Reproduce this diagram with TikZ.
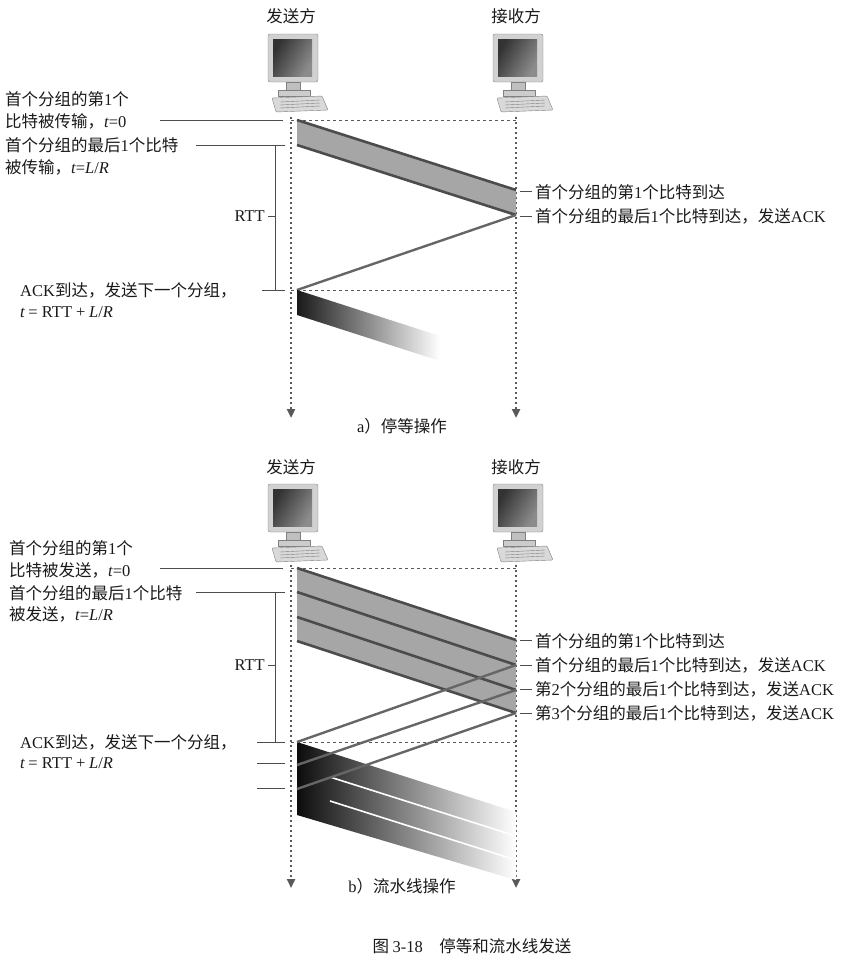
\documentclass[tikz,border=0pt]{standalone}
\usepackage{fontspec}
\setmainfont{Noto Sans CJK SC}
\newfontfamily\lat{Liberation Serif}
\usetikzlibrary{arrows.meta}
\newcommand{\vi}[1]{{\lat\itshape #1}}
\newcommand{\la}[1]{{\lat #1}}
\begin{document}
\begin{tikzpicture}[x=1pt,y=-1pt,
  txt/.style={font=\fontsize{16.5}{18}\selectfont, inner sep=0pt, text=black!90},
  tl/.style={txt,anchor=west},
  life/.style={draw=black!65, line width=2.4pt, dash pattern=on 1.5pt off 3.5pt, -{Triangle[width=8pt,length=9pt]}},
  dsh/.style={draw=black!65, dashed, line width=0.8pt},
  lead/.style={draw=black!70, line width=0.8pt},
  pk/.style={draw=black!70, line width=2.6pt},
  band/.style={fill=black!35},
  ackl/.style={draw=black!60, line width=2.4pt}]
\useasboundingbox (0,0) rectangle (862,972);

\newcommand{\computer}[2]{%
  \begin{scope}[shift={(#1,#2)}]
   \fill[black!18,draw=black!50,rounded corners=2pt] (-24,-38) rectangle (26,10);
   \shade[left color=black!80,right color=black!45,shading angle=60] (-19,-33) rectangle (20,4);
   \fill[black!25,draw=black!50] (-6,10) rectangle (8,18);
   \fill[black!20,draw=black!50] (-14,18) rectangle (18,24);
   \fill[black!15,draw=black!50,rounded corners=1pt] (-20,26) -- (30,24) -- (36,38) -- (-16,40) -- cycle;
   \foreach \k in {29,32,35} \draw[black!50] (-12,\k+1) -- (28,\k-1);
  \end{scope}}

% ===== part a =====
\node[txt] (sa) at (291,16) {发送方};
\node[txt] (ra) at (516,16) {接收方};
\computer{292}{72}
\computer{517}{72}
\coordinate (sa0) at (291,117); \coordinate (sa1) at (291,418);
\coordinate (ra0) at (516,117); \coordinate (ra1) at (516,418);
\draw[life] (sa0) -- (sa1);
\draw[life] (ra0) -- (ra1);
\coordinate (a1) at (297,120); \coordinate (a2) at (297,145);
\coordinate (a3) at (516,190); \coordinate (a4) at (516,215);
\coordinate (a5) at (297,290); \coordinate (a6) at (297,315);
\draw[dsh] (291,120) -- (516,120);
\draw[dsh] (291,290) -- (516,290);
\fill[band] (a1) -- (a3) -- (a4) -- (a2) -- cycle;
\draw[pk] (a1) -- (a3);
\draw[pk] (a2) -- (a4);
\draw[ackl] (a4) -- (a5);
\shade[left color=black!90, right color=white] (a5) -- (440,336) -- (440,361) -- (a6) -- cycle;

\node[tl] (l1) at (5,99) {首个分组的第\la{1}个};
\node[tl] (l2) at (5,121) {比特被传输，\vi{t}\la{=0}};
\draw[lead] (160,120) -- (283,120);
\node[tl] (l3) at (5,145) {首个分组的最后\la{1}个比特};
\node[tl] (l4) at (5,167) {被传输，\vi{t}\la{=}\vi{L}\la{/}\vi{R}};
\draw[lead] (196,145) -- (285,145);
\draw[lead] (285,145) -- (275,145) -- (275,290) -- (285,290);
\node[txt,anchor=east] (rtta) at (265,216) {\la{RTT}};
\draw[lead] (268,216) -- (275,216);
\node[tl] (l5) at (20,290) {\la{ACK}到达，发送下一个分组，};
\node[tl] (l6) at (20,312) {\vi{t} \la{= RTT +} \vi{L}\la{/}\vi{R}};
\draw[lead] (262,290) -- (285,290);
\draw[lead] (520,191) -- (532,191);
\node[tl] (r1) at (535,192) {首个分组的第\la{1}个比特到达};
\draw[lead] (520,216) -- (532,216);
\node[tl] (r2) at (535,216) {首个分组的最后\la{1}个比特到达，发送\la{ACK}};
\node[txt] (capa) at (402,426) {\la{a}）停等操作};

% ===== part b =====
\node[txt] (sb) at (291,467) {发送方};
\node[txt] (rb) at (516,467) {接收方};
\computer{292}{522}
\computer{517}{522}
\coordinate (sb0) at (291,565); \coordinate (sb1) at (291,888);
\coordinate (rb0) at (516,565); \coordinate (rb1) at (516,888);
\draw[life] (sb0) -- (sb1);
\draw[life] (rb0) -- (rb1);
\draw[dsh] (291,568) -- (516,568);
\draw[dsh] (291,742) -- (516,742);
\fill[band] (297,568) -- (516,640) -- (516,713) -- (297,641) -- cycle;
\draw[pk] (297,568) -- (516,640);
\draw[pk] (297,592) -- (516,665);
\draw[pk] (297,617) -- (516,690);
\draw[pk] (297,641) -- (516,713);
\shade[left color=black!95, right color=white] (297,742) -- (516,812) -- (516,880) -- (297,815) -- cycle;
\draw[white,line width=1.6pt] (330,777) -- (516,836);
\draw[white,line width=1.6pt] (330,801) -- (516,860);
\draw[ackl] (516,665) -- (297,742);
\draw[ackl] (516,690) -- (297,765);
\draw[ackl] (516,713) -- (297,789);

\node[tl] (m1) at (9,548) {首个分组的第\la{1}个};
\node[tl] (m2) at (9,570) {比特被发送，\vi{t}\la{=0}};
\draw[lead] (160,568) -- (283,568);
\node[tl] (m3) at (9,593) {首个分组的最后\la{1}个比特};
\node[tl] (m4) at (9,614) {被发送，\vi{t}\la{=}\vi{L}\la{/}\vi{R}};
\draw[lead] (196,592) -- (285,592);
\draw[lead] (285,592) -- (275,592) -- (275,742) -- (285,742);
\node[txt,anchor=east] (rttb) at (265,665) {\la{RTT}};
\draw[lead] (268,665) -- (275,665);
\node[tl] (m5) at (20,742) {\la{ACK}到达，发送下一个分组，};
\node[tl] (m6) at (20,763) {\vi{t} \la{= RTT +} \vi{L}\la{/}\vi{R}};
\draw[lead] (257,742) -- (285,742);
\draw[lead] (257,763) -- (285,763);
\draw[lead] (257,788) -- (285,788);
\draw[lead] (520,640) -- (532,640);
\node[tl] (s1) at (535,641) {首个分组的第\la{1}个比特到达};
\draw[lead] (520,665) -- (532,665);
\node[tl] (s2) at (535,665) {首个分组的最后\la{1}个比特到达，发送\la{ACK}};
\draw[lead] (520,689) -- (532,689);
\node[tl] (s3) at (535,689) {第\la{2}个分组的最后\la{1}个比特到达，发送\la{ACK}};
\draw[lead] (520,713) -- (532,713);
\node[tl] (s4) at (535,713) {第\la{3}个分组的最后\la{1}个比特到达，发送\la{ACK}};
\node[txt] (capb) at (402,886) {\la{b}）流水线操作};
\node[txt] (fig) at (472,946) {图 \la{3-18}\quad 停等和流水线发送};
\end{tikzpicture}
\end{document}
